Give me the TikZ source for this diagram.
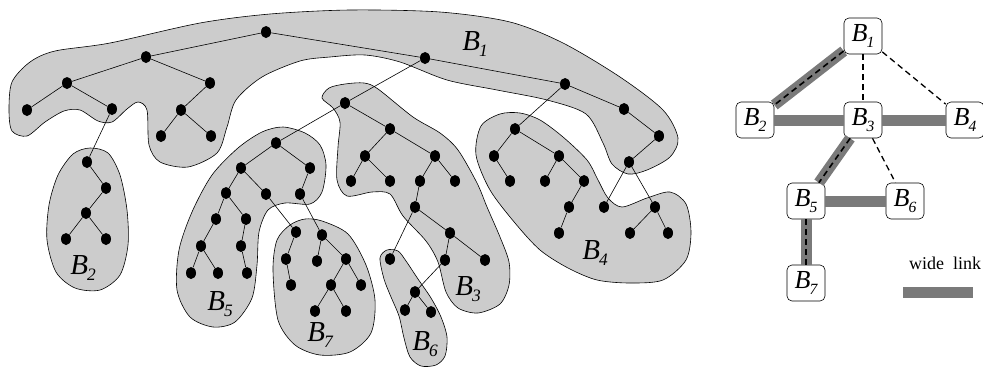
\documentclass[tikz,border=0pt]{standalone}
\usepackage{tikz}
\usetikzlibrary{shapes.geometric, arrows.meta, positioning, calc}
\usepackage{amsmath, amssymb}
\usepackage{fontspec}
\newfontfamily\lbfont{Liberation Serif}
\newcommand{\blk}[1]{{\lbfont\itshape B\kern-1pt\raisebox{-0.2em}{\scalebox{0.6}{#1}}}}

\begin{document}
\begin{tikzpicture}[x=1pt, y=-1pt,
    vtx/.style={ellipse, fill=black, inner sep=0pt, minimum width=10pt, minimum height=12pt},
    blob/.style={draw=black, fill=black!20, line width=0.6pt},
    lbl/.style={font=\fontsize{29}{32}\selectfont},
    blockbox/.style={draw, rounded corners=5pt, fill=white, line width=0.6pt,
      minimum width=38pt, minimum height=36pt, inner sep=0pt, font=\fontsize{26}{28}\selectfont},
    widelink/.style={line width=11pt, black!52},
    brokenlink/.style={line width=1.6pt, dash pattern=on 6pt off 4pt}]
  \useasboundingbox (0,0) rectangle (983,370);

  % blocks of the tree
  \draw[blob] plot[smooth cycle] coordinates {(9,110) (12,82) (30,62) (55,51) (110,43) (200,23)
    (270,14) (350,10) (440,12) (510,22) (563,43) (620,77) (663,110) (678,138) (670,157) (647,170)
    (628,174) (612,164) (603,143) (586,114) (547,100) (497,90) (447,80) (400,62) (365,55) (330,57)
    (300,61) (262,77) (236,100) (227,127) (217,153) (188,167) (160,162) (149,145) (147,110)
    (138,102) (127,109) (112,122) (98,121) (80,110) (64,111) (45,122) (27,136) (12,131)};
  \draw[blob] plot[smooth cycle] coordinates {(90,148) (108,153) (120,175) (127,210) (128,245)
    (120,275) (100,290) (75,288) (56,272) (47,240) (49,205) (58,175) (73,154)};
  \draw[blob] plot[smooth cycle] coordinates {(322,98) (329,88) (345,84) (364,83) (378,89)
    (413,117) (440,133) (458,150) (477,183) (487,207) (500,237) (509,262) (509,285) (500,304)
    (478,313) (458,308) (446,292) (438,262) (426,241) (403,216) (390,194) (372,192) (347,196)
    (337,180) (338,147) (340,122) (333,108)};
  \draw[blob] plot[smooth cycle] coordinates {(481,126) (500,114) (520,113) (540,120) (563,137)
    (587,160) (598,180) (608,198) (622,207) (647,198) (670,192) (686,204) (691,232) (686,260)
    (663,280) (630,283) (597,280) (568,268) (540,250) (515,223) (490,190) (476,155)};
  \draw[blob] plot[smooth cycle] coordinates {(283,127) (305,133) (320,145) (326,165) (322,192)
    (310,204) (285,203) (268,210) (259,232) (257,265) (252,298) (235,322) (213,327) (190,317)
    (177,290) (179,250) (192,212) (212,175) (238,148) (262,132)};
  \draw[blob] plot[smooth cycle] coordinates {(380,258) (387,250) (398,251) (406,261) (418,279)
    (431,298) (441,317) (447,337) (445,356) (436,365) (421,366) (410,357) (404,338) (399,316)
    (391,297) (384,279)};
  \draw[blob] plot[smooth cycle] coordinates {(322,221) (348,234) (366,265) (375,300) (371,333)
    (350,352) (320,355) (295,345) (278,320) (273,270) (277,240) (290,225) (305,219)};

  \node[lbl] (l1) at (475,44) {\blk{1}};
  \node[lbl] (l2) at (83,268) {\blk{2}};
  \node[lbl] (l3) at (468,289) {\blk{3}};
  \node[lbl] (l4) at (595,253) {\blk{4}};
  \node[lbl] (l5) at (220,304) {\blk{5}};
  \node[lbl] (l6) at (425,344) {\blk{6}};
  \node[lbl] (l7) at (320,335) {\blk{7}};

  % B1
  \node[vtx] (a1) at (266,32) {};
  \node[vtx] (a2) at (146,57) {};
  \node[vtx] (a3) at (425,58) {};
  \node[vtx] (a4) at (67,83) {};
  \node[vtx] (a5) at (210,83) {};
  \node[vtx] (a6) at (27,110) {};
  \node[vtx] (a7) at (112,109) {};
  \node[vtx] (a8) at (181,110) {};
  \node[vtx] (a9) at (161,136) {};
  \node[vtx] (a10) at (211,136) {};
  \node[vtx] (a11) at (565,84) {};
  \node[vtx] (a12) at (624,109) {};
  \node[vtx] (a13) at (659,136) {};
  \node[vtx] (a14) at (629,162) {};
  % B2
  \node[vtx] (b1) at (87,162) {};
  \node[vtx] (b2) at (106,188) {};
  \node[vtx] (b3) at (86,213) {};
  \node[vtx] (b4) at (66,239) {};
  \node[vtx] (b5) at (106,239) {};
  % B3
  \node[vtx] (c1) at (345,103) {};
  \node[vtx] (c2) at (390,129) {};
  \node[vtx] (c3) at (365,156) {};
  \node[vtx] (c4) at (435,156) {};
  \node[vtx] (c5) at (351,181) {};
  \node[vtx] (c6) at (390,181) {};
  \node[vtx] (c7) at (420,181) {};
  \node[vtx] (c8) at (455,181) {};
  \node[vtx] (c9) at (415,207) {};
  \node[vtx] (c10) at (450,233) {};
  \node[vtx] (c11) at (445,260) {};
  \node[vtx] (c12) at (485,260) {};
  % B4
  \node[vtx] (d1) at (515,129) {};
  \node[vtx] (d2) at (494,156) {};
  \node[vtx] (d3) at (510,181) {};
  \node[vtx] (d4) at (559,156) {};
  \node[vtx] (d5) at (545,181) {};
  \node[vtx] (d6) at (584,181) {};
  \node[vtx] (d7) at (569,207) {};
  \node[vtx] (d8) at (559,233) {};
  \node[vtx] (d9) at (604,207) {};
  \node[vtx] (d10) at (655,207) {};
  \node[vtx] (d11) at (630,233) {};
  \node[vtx] (d12) at (668,233) {};
  % B5
  \node[vtx] (e1) at (276,143) {};
  \node[vtx] (e2) at (241,168) {};
  \node[vtx] (e3) at (310,168) {};
  \node[vtx] (e4) at (226,193) {};
  \node[vtx] (e5) at (266,194) {};
  \node[vtx] (e6) at (300,194) {};
  \node[vtx] (e7) at (216,219) {};
  \node[vtx] (e8) at (246,219) {};
  \node[vtx] (e9) at (201,246) {};
  \node[vtx] (e10) at (241,246) {};
  \node[vtx] (e11) at (191,273) {};
  \node[vtx] (e12) at (218,273) {};
  \node[vtx] (e13) at (247,273) {};
  % B6
  \node[vtx] (f1) at (390,259) {};
  \node[vtx] (f2) at (415,292) {};
  \node[vtx] (f3) at (405,310) {};
  \node[vtx] (f4) at (431,312) {};
  % B7
  \node[vtx] (g1) at (296,232) {};
  \node[vtx] (g2) at (322,235) {};
  \node[vtx] (g3) at (286,259) {};
  \node[vtx] (g4) at (291,285) {};
  \node[vtx] (g5) at (317,261) {};
  \node[vtx] (g6) at (346,259) {};
  \node[vtx] (g7) at (331,285) {};
  \node[vtx] (g8) at (361,285) {};
  \node[vtx] (g9) at (315,311) {};
  \node[vtx] (g10) at (346,311) {};

  \draw[line width=0.6pt] (a1) -- (a2) (a1) -- (a3) (a2) -- (a4) (a2) -- (a5);
  \draw[line width=0.6pt] (a4) -- (a6) (a4) -- (a7) (a5) -- (a8) (a8) -- (a9) (a8) -- (a10);
  \draw[line width=0.6pt] (a3) -- (a11) (a11) -- (a12) (a12) -- (a13) (a13) -- (a14);
  \draw[line width=0.6pt] (a7) -- (b1) (a3) -- (c1) (a11) -- (d1) (a14) -- (d9) (a14) -- (d10);
  \draw[line width=0.6pt] (b1) -- (b2) (b2) -- (b3) (b3) -- (b4) (b3) -- (b5);
  \draw[line width=0.6pt] (c1) -- (c2) (c2) -- (c3) (c2) -- (c4) (c3) -- (c5) (c3) -- (c6);
  \draw[line width=0.6pt] (c4) -- (c7) (c4) -- (c8) (c7) -- (c9) (c9) -- (c10) (c10) -- (c11) (c10) -- (c12);
  \draw[line width=0.6pt] (c1) -- (e1) (c9) -- (f1) (c11) -- (f2);
  \draw[line width=0.6pt] (d1) -- (d2) (d2) -- (d3) (d1) -- (d4) (d4) -- (d5) (d4) -- (d6);
  \draw[line width=0.6pt] (d6) -- (d7) (d7) -- (d8) (d10) -- (d11) (d10) -- (d12);
  \draw[line width=0.6pt] (e1) -- (e2) (e1) -- (e3) (e2) -- (e4) (e2) -- (e5) (e3) -- (e6);
  \draw[line width=0.6pt] (e4) -- (e7) (e4) -- (e8) (e7) -- (e9) (e9) -- (e11) (e9) -- (e12);
  \draw[line width=0.6pt] (e8) -- (e10) (e10) -- (e13) (e5) -- (g1) (e6) -- (g2);
  \draw[line width=0.6pt] (f2) -- (f3) (f2) -- (f4);
  \draw[line width=0.6pt] (g1) -- (g3) (g3) -- (g4) (g2) -- (g5) (g2) -- (g6);
  \draw[line width=0.6pt] (g6) -- (g7) (g6) -- (g8) (g7) -- (g9) (g7) -- (g10);

  % block graph
  \node[blockbox] (r1) at (863,36) {\blk{1}};
  \node[blockbox] (r2) at (755,120) {\blk{2}};
  \node[blockbox] (r3) at (863,120) {\blk{3}};
  \node[blockbox] (r4) at (965,120) {\blk{4}};
  \node[blockbox] (r5) at (806,201) {\blk{5}};
  \node[blockbox] (r6) at (905,201) {\blk{6}};
  \node[blockbox] (r7) at (806,283) {\blk{7}};

  \draw[widelink] (r1) -- (r2);
  \draw[widelink] (r2) -- (r3);
  \draw[widelink] (r3) -- (r4);
  \draw[widelink] (r3) -- (r5);
  \draw[widelink] (r5) -- (r6);
  \draw[widelink] (r5) -- (r7);
  \draw[brokenlink] (r1) -- (r2);
  \draw[brokenlink] (r1) -- (r3);
  \draw[brokenlink, line width=1.3pt] (r1) -- (r4);
  \draw[brokenlink] (r3) -- (r5);
  \draw[brokenlink, line width=1.3pt] (r3) -- (r6);
  \draw[brokenlink] (r5) -- (r7);

  \node[font=\lbfont\fontsize{18}{20}\selectfont] (key) at (945,263) {wide~~link};
  \coordinate (k1) at (903,292);
  \coordinate (k2) at (973,292);
  \draw[widelink] (k1) -- (k2);
\end{tikzpicture}
\end{document}
